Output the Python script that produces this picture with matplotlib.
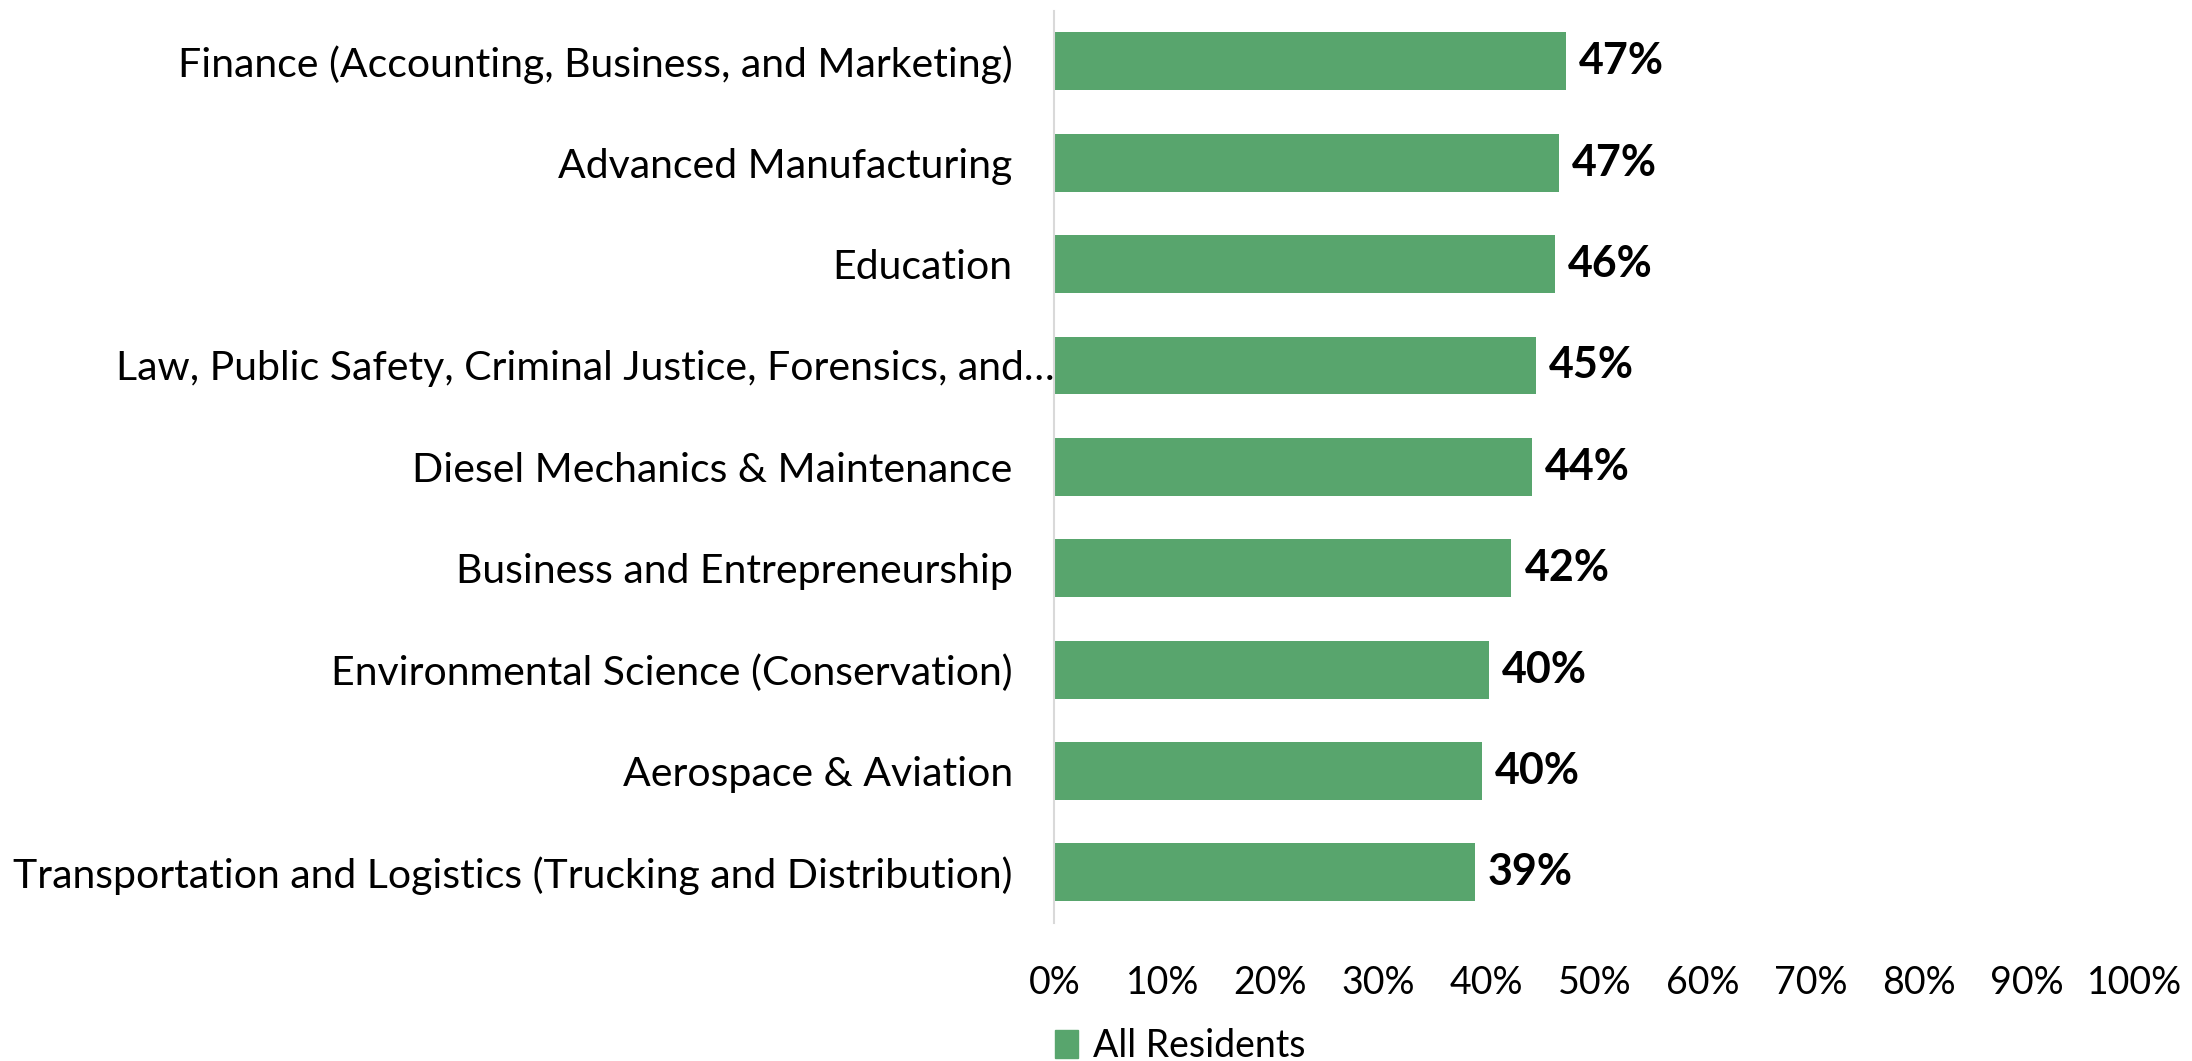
import matplotlib
matplotlib.use("Agg")
import matplotlib.pyplot as plt
from matplotlib.patches import Patch
from matplotlib.transforms import ScaledTranslation

# data
categories = [
    "Finance (Accounting, Business, and Marketing)",
    "Advanced Manufacturing",
    "Education",
    "Law, Public Safety, Criminal Justice, Forensics, and\u2026",
    "Diesel Mechanics & Maintenance",
    "Business and Entrepreneurship",
    "Environmental Science (Conservation)",
    "Aerospace & Aviation",
    "Transportation and Logistics (Trucking and Distribution)",
]
values = [0.473, 0.467, 0.463, 0.446, 0.442, 0.423, 0.402, 0.396, 0.389]
xticks = [0, 0.1, 0.2, 0.3, 0.4, 0.5, 0.6, 0.7, 0.8, 0.9, 1.0]
series_name = "All Residents"

green = "#58A56D"
plt.rcParams['font.family'] = ['Lato', 'DejaVu Sans']

fig = plt.figure(figsize=(21.92, 10.61), dpi=100)
ax = fig.add_axes([0.481, 0.130, 0.493, 0.860])

ypos = list(range(len(categories)))
ax.barh(ypos, values, height=0.57, color=green)
ax.set_ylim(len(categories) - 0.5, -0.5)
ax.set_xlim(0, 1.0)

for y, v in zip(ypos, values):
    ax.text(v + 0.012, y, "%d%%" % round(v * 100), va="center", ha="left",
            fontsize=31, fontweight="bold", color="black")

ax.set_yticks(ypos)
ax.set_yticklabels(categories, fontsize=29.5)
ax.set_xticks(xticks)
ax.set_xticklabels(["%d%%" % round(t * 100) for t in xticks], fontsize=27)
ax.tick_params(axis="y", length=0, pad=30)
ax.tick_params(axis="x", length=0, pad=30)

# truncated label overflows to the axis like the original
lbl = ax.get_yticklabels()[3]
lbl.set_transform(lbl.get_transform() + ScaledTranslation(30 / 72, 0, fig.dpi_scale_trans))

for s in ["top", "right", "bottom"]:
    ax.spines[s].set_visible(False)
ax.spines["left"].set_color("#d9d9d9")
ax.spines["left"].set_linewidth(1.5)

fig.legend(handles=[Patch(color=green, label=series_name)], loc="center left",
           bbox_to_anchor=(0.466, 0.014), frameon=False, fontsize=27,
           handlelength=0.6, handleheight=0.8, handletextpad=0.4)

fig.savefig("out.png", dpi=100)
